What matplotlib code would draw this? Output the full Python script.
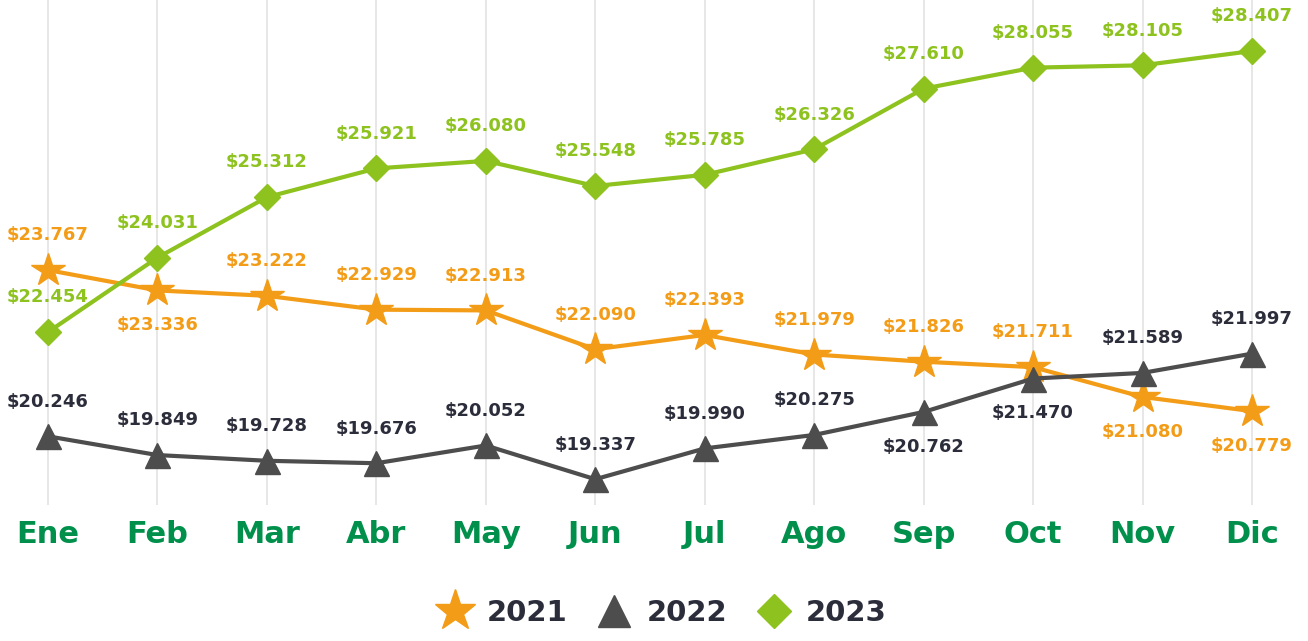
import matplotlib.pyplot as plt
from matplotlib.lines import Line2D

months = ['Ene', 'Feb', 'Mar', 'Abr', 'May', 'Jun', 'Jul', 'Ago', 'Sep', 'Oct', 'Nov', 'Dic']

vals_2021 = [23.767, 23.336, 23.222, 22.929, 22.913, 22.090, 22.393, 21.979, 21.826, 21.711, 21.080, 20.779]
vals_2022 = [20.246, 19.849, 19.728, 19.676, 20.052, 19.337, 19.990, 20.275, 20.762, 21.470, 21.589, 21.997]
vals_2023 = [22.454, 24.031, 25.312, 25.921, 26.080, 25.548, 25.785, 26.326, 27.610, 28.055, 28.105, 28.407]

# label above (1) or below (-1) the marker
pos_2021 = [1, -1, 1, 1, 1, 1, 1, 1, 1, 1, -1, -1]
pos_2022 = [1, 1, 1, 1, 1, 1, 1, 1, -1, -1, 1, 1]
pos_2023 = [1] * 12

orange = '#F39C17'
gray = '#4D4D4D'
green = '#8DC21F'
month_green = '#00904C'
dark = '#2B2D3B'

plt.rcParams['font.family'] = 'DejaVu Sans'

fig = plt.figure(figsize=(13.08, 6.41), dpi=100)
ax = fig.add_axes([0, 0.212, 1, 0.788])

x = list(range(12))

series = [
    (vals_2021, pos_2021, orange, orange, '*', 25, '2021'),
    (vals_2022, pos_2022, gray, dark, '^', 18, '2022'),
    (vals_2023, pos_2023, green, green, 'D', 13, '2023'),
]

for vals, pos, col, txtcol, mk, ms, name in series:
    ax.plot(x, vals, color=col, lw=3, marker=mk, markersize=ms, zorder=3)
    for i, v in enumerate(vals):
        ax.annotate('$' + f'{v:.3f}', (i, v), xytext=(0, 25 * pos[i]), textcoords='offset points',
                    ha='center', va='center', fontsize=13, fontweight='bold', color=txtcol, zorder=4)

ax.set_xlim(-0.4386, 11.512)
ax.set_ylim(18.789, 29.488)
ax.set_xticks(x)
ax.set_xticklabels(months, fontsize=22, fontweight='bold', color=month_green)
ax.tick_params(axis='x', length=0, pad=11)
ax.set_yticks([])
ax.grid(axis='x', color='#E3E3E3', lw=1.2)
for s in ax.spines.values():
    s.set_visible(False)

handles = [
    Line2D([], [], color=orange, marker='*', markersize=31, lw=0),
    Line2D([], [], color=gray, marker='^', markersize=23, lw=0),
    Line2D([], [], color=green, marker='D', markersize=17, lw=0),
]
leg = fig.legend(handles, ['2021', '2022', '2023'], loc='center', bbox_to_anchor=(0.504, 0.043),
                 ncol=3, frameon=False, handletextpad=0.3, columnspacing=0.8, handlelength=1.6,
                 prop={'size': 21, 'weight': 'bold'})
for t in leg.get_texts():
    t.set_color(dark)

fig.savefig('out.png', dpi=100)
